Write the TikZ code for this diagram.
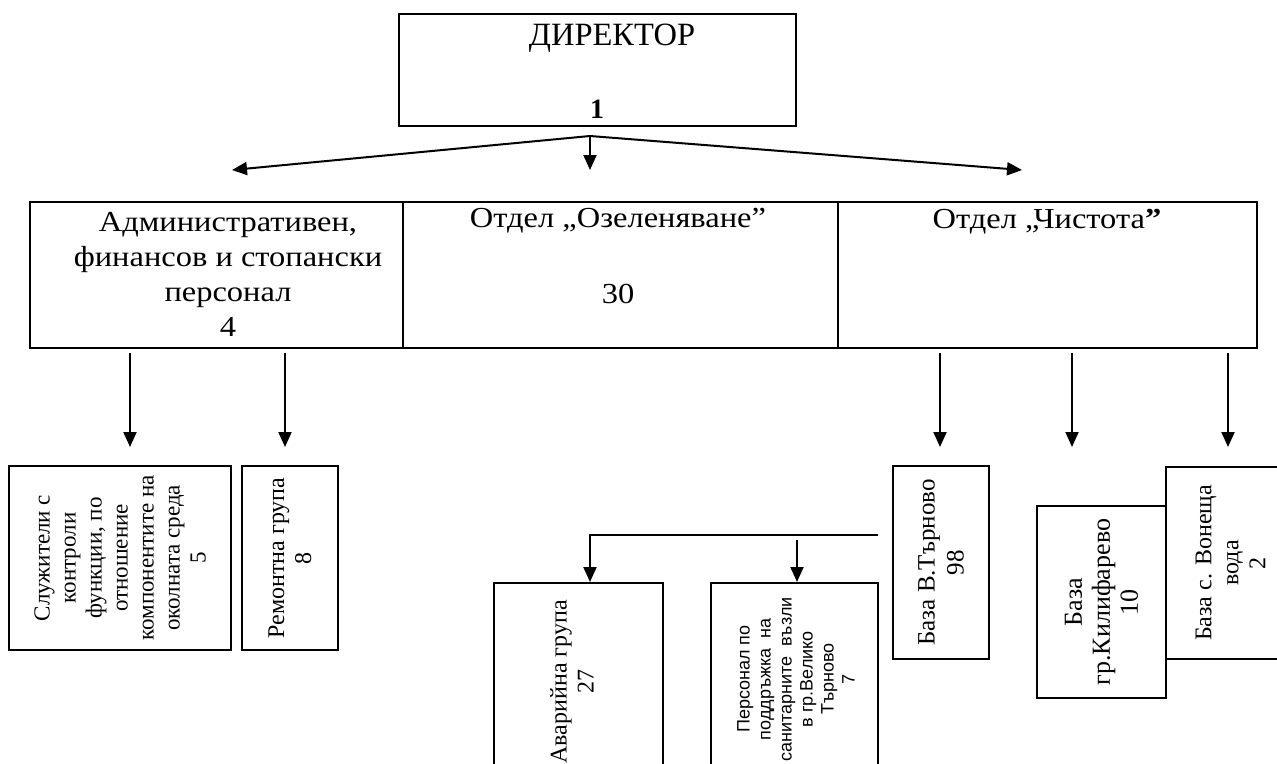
\documentclass[tikz,border=0pt]{standalone}
\usepackage{fontspec}
\setmainfont{Liberation Serif}
\newfontfamily\arialf{Liberation Sans}
\newfontfamily\wideserif[FakeStretch=1.12]{Liberation Serif}
\usetikzlibrary{arrows.meta}
\begin{document}
\begin{tikzpicture}[x=1pt,y=-1pt,
  box/.style={draw, line width=2pt, inner sep=0pt, rectangle},
  lbl/.style={inner sep=0pt, font=\wideserif\fontsize{29}{35}\selectfont, align=center},
  rlbl/.style={inner sep=0pt, rotate=90, align=center, font=\fontsize{24}{27}\selectfont},
  arr/.style={line width=2pt, -{Triangle[length=15pt,width=13pt]}},
]
\useasboundingbox (0,0) rectangle (1277,763);
\clip (0,0) rectangle (1277,763);

% Director
\node[box, minimum width=397pt, minimum height=112pt] (dir) at (597.5,70) {};
\node[lbl, anchor=base, font=\fontsize{32.5}{38}\selectfont] (dirt) at (612,45) {ДИРЕКТОР};
\node[lbl, anchor=base, font=\bfseries\fontsize{28}{32}\selectfont] (dirn) at (597,118) {1};

\coordinate (apex) at (590,136);
\coordinate (tl) at (232,170);
\coordinate (tm) at (590,170);
\coordinate (tr) at (1022,170);
\draw[arr] (apex) -- (tl);
\draw[arr] (apex) -- (tm);
\draw[arr] (apex) -- (tr);

% Row of departments
\node[box, minimum width=373pt, minimum height=146pt] (adm) at (216.5,274.5) {};
\node[box, minimum width=435pt, minimum height=146pt] (ozl) at (620.5,274.5) {};
\node[box, minimum width=419pt, minimum height=146pt] (chi) at (1047.5,274.5) {};

\node[lbl, anchor=north] (admt) at (228,212) {Административен,\\финансов и стопански\\персонал\\4};
\node[lbl, anchor=base] (ozlt) at (618,227) {Отдел „Озеленяване”};
\node[lbl, anchor=base] (ozln) at (618,303) {30};
\node[lbl, anchor=base] (chit) at (1047,228) {Отдел „Чистота\textbf{”}};

% arrows down
\coordinate (a1) at (130,447);
\coordinate (a2) at (285,447);
\coordinate (a3) at (940,447);
\coordinate (a4) at (1072,447);
\coordinate (a5) at (1228,447);
\draw[arr, shorten <=4pt] (adm.south -| a1) -- (a1);
\draw[arr, shorten <=4pt] (adm.south -| a2) -- (a2);
\draw[arr, shorten <=4pt] (chi.south -| a3) -- (a3);
\draw[arr, shorten <=4pt] (chi.south -| a4) -- (a4);
\draw[arr, shorten <=4pt] (chi.south -| a5) -- (a5);

% bottom boxes
\node[box, rlbl, font=\fontsize{23}{26}\selectfont, minimum width=184pt, minimum height=222pt] (sluz) at (120,558)
  {Служители с\\контроли\\функции, по\\отношение\\компонентите на\\околната среда\\5};
\node[box, rlbl, minimum width=184pt, minimum height=96pt] (rem) at (290,558)
  {Ремонтна група\\8};
\node[box, rlbl, font=\fontsize{25}{29}\selectfont, minimum width=193pt, minimum height=96pt] (bvt) at (941,562.5)
  {База В.Търново\\98};
\node[box, rlbl, font=\fontsize{26}{28}\selectfont, minimum width=192pt, minimum height=129pt] (bkil) at (1101.5,602)
  {База\\гр.Килифарево\\10};
\node[box, rlbl, minimum width=192pt, minimum height=129pt] (bvon) at (1230.5,563)
  {База с. Вонеща\\вода\\2};

\node[box, rotate=90, minimum width=267pt, minimum height=169pt] (avar) at (578.5,716.5) {};
\node[rlbl, anchor=east] (avart) at (572,600) {Аварийна група\\27};
\node[box, rotate=90, minimum width=267pt, minimum height=167pt] (pers) at (794.5,716.5) {};
\node[rlbl, anchor=east, font=\arialf\fontsize{18}{21}\selectfont] (perst) at (796,597)
  {Персонал по\\поддръжка\ \ на\\санитарните\ \ възли\\в гр.Велико\\Търново\\7};

\coordinate (e1) at (878,535);
\coordinate (j1) at (590,535);
\coordinate (p1) at (797,540);
\draw[arr] (e1) -- (j1) -- (j1 |- avar.north east);
\draw[arr] (p1) -- (p1 |- pers.north east);
\end{tikzpicture}
\end{document}
